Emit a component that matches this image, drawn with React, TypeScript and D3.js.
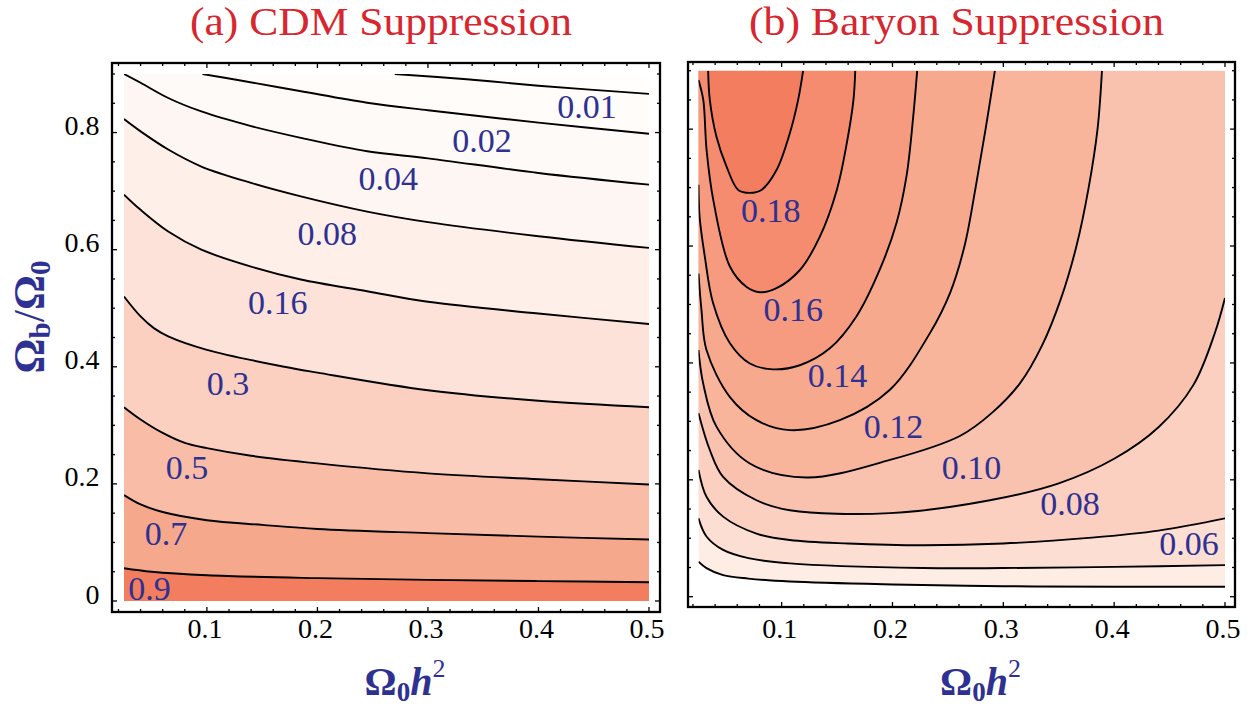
import React, { useLayoutEffect, useRef, useState } from 'react';
import * as d3 from 'd3';

type P = [number, number];

// ---------- shared axis data ----------
const xMajor = [0.1, 0.2, 0.3, 0.4, 0.5];
const xMajorLabels = ['0.1', '0.2', '0.3', '0.4', '0.5'];
const yMajor = [0, 0.2, 0.4, 0.6, 0.8];
const yMajorLabels = ['0', '0.2', '0.4', '0.6', '0.8'];
const xDomain: P = [0.025, 0.5];
const yDomain: P = [0, 0.9];

// ---------- (a) CDM suppression ----------
const cdmTitle = '(a) CDM Suppression';
const cdmLevels = ['0.01', '0.02', '0.04', '0.08', '0.16', '0.3', '0.5', '0.7', '0.9'];
const cdm001: P[] = [[0.27, 0.9], [0.335, 0.891], [0.4, 0.88], [0.5, 0.866]];
const cdm002: P[] = [[0.096, 0.9], [0.124, 0.891], [0.184, 0.871], [0.245, 0.851], [0.3, 0.838], [0.4, 0.817], [0.5, 0.798]];
const cdm004: P[] = [[0.025, 0.9], [0.04, 0.885], [0.065, 0.859], [0.095, 0.836], [0.14, 0.811], [0.185, 0.791], [0.245, 0.768], [0.3, 0.756], [0.4, 0.731], [0.5, 0.711]];
const cdm008: P[] = [[0.025, 0.823], [0.04, 0.802], [0.065, 0.771], [0.095, 0.742], [0.14, 0.714], [0.185, 0.691], [0.245, 0.665], [0.3, 0.647], [0.4, 0.623], [0.5, 0.603]];
const cdm016: P[] = [[0.025, 0.694], [0.04, 0.668], [0.065, 0.631], [0.095, 0.6], [0.14, 0.571], [0.185, 0.549], [0.245, 0.529], [0.3, 0.511], [0.4, 0.491], [0.5, 0.473]];
const cdm030: P[] = [[0.025, 0.52], [0.04, 0.486], [0.052, 0.466], [0.065, 0.452], [0.1, 0.429], [0.17, 0.4], [0.2, 0.39], [0.3, 0.36], [0.4, 0.342], [0.5, 0.331]];
const cdm050: P[] = [[0.025, 0.331], [0.04, 0.31], [0.06, 0.287], [0.08, 0.27], [0.1, 0.261], [0.14, 0.248], [0.2, 0.235], [0.3, 0.218], [0.4, 0.208], [0.5, 0.199]];
const cdm070: P[] = [[0.025, 0.181], [0.04, 0.165], [0.06, 0.152], [0.1, 0.138], [0.15, 0.13], [0.2, 0.123], [0.3, 0.116], [0.4, 0.11], [0.5, 0.105]];
const cdm090: P[] = [[0.025, 0.056], [0.05, 0.05], [0.1, 0.044], [0.2, 0.039], [0.3, 0.036], [0.4, 0.034], [0.5, 0.032]];
const cdmLines = [cdm001, cdm002, cdm004, cdm008, cdm016, cdm030, cdm050, cdm070, cdm090];
const cdmLabelX = [0.444, 0.349, 0.264, 0.209, 0.164, 0.119, 0.082, 0.063, 0.048];
const cdmLabelY = [0.844, 0.787, 0.722, 0.628, 0.509, 0.371, 0.228, 0.115, 0.022];
const cdmBands = ['#fffefd', '#fffcfa', '#fefaf7', '#fef6f2', '#feefe9', '#fde2d9', '#fbd0c1', '#f9bca7', '#f6a88c', '#f27e5f'];

// ---------- (b) Baryon suppression ----------
const barTitle = '(b) Baryon Suppression';
const barLevels = ['0.02', '0.04', '0.06', '0.08', '0.10', '0.12', '0.14', '0.16', '0.18'];
const bar002: P[] = [[0.025, 0.06], [0.0322, 0.049], [0.0472, 0.037], [0.07, 0.031], [0.1074, 0.026], [0.2, 0.021], [0.3, 0.018], [0.4, 0.017], [0.5, 0.017]];
const bar004: P[] = [[0.025, 0.134], [0.0322, 0.103], [0.0472, 0.08], [0.07, 0.066], [0.1074, 0.057], [0.2277, 0.049], [0.3, 0.049], [0.4, 0.051], [0.5, 0.054]];
const bar006: P[] = [[0.025, 0.217], [0.0322, 0.171], [0.0472, 0.137], [0.0773, 0.108], [0.1074, 0.097], [0.16, 0.091], [0.2277, 0.088], [0.3, 0.091], [0.38, 0.101], [0.44, 0.113], [0.5, 0.134]];
const bar008: P[] = [[0.025, 0.314], [0.0352, 0.251], [0.0472, 0.205], [0.0773, 0.165], [0.1074, 0.148], [0.1977, 0.143], [0.2879, 0.165], [0.35, 0.194], [0.4, 0.236], [0.44, 0.29], [0.4714, 0.362], [0.491, 0.452], [0.5, 0.511]];
const bar010: P[] = [[0.025, 0.422], [0.0292, 0.365], [0.0412, 0.291], [0.0713, 0.228], [0.1225, 0.204], [0.1977, 0.234], [0.2608, 0.275], [0.29, 0.315], [0.315, 0.365], [0.335, 0.43], [0.352, 0.51], [0.366, 0.6], [0.377, 0.7], [0.385, 0.8], [0.389, 0.9]];
const bar012: P[] = [[0.025, 0.553], [0.0277, 0.49], [0.0322, 0.422], [0.0532, 0.342], [0.0773, 0.302], [0.1074, 0.285], [0.1525, 0.302], [0.1977, 0.354], [0.2338, 0.451], [0.252, 0.52], [0.265, 0.6], [0.275, 0.7], [0.284, 0.8], [0.2924, 0.9]];
const bar014: P[] = [[0.025, 0.705], [0.026, 0.65], [0.0307, 0.582], [0.0382, 0.502], [0.0532, 0.434], [0.0713, 0.399], [0.0923, 0.389], [0.1164, 0.396], [0.1435, 0.425], [0.1676, 0.48], [0.1886, 0.56], [0.2037, 0.64], [0.2127, 0.72], [0.2187, 0.821], [0.2223, 0.9]];
const bar016: P[] = [[0.025, 0.884], [0.0293, 0.85], [0.0323, 0.764], [0.0383, 0.679], [0.0533, 0.565], [0.0684, 0.53], [0.0804, 0.521], [0.0954, 0.528], [0.1165, 0.559], [0.1345, 0.616], [0.1498, 0.696], [0.1588, 0.776], [0.1648, 0.85], [0.1664, 0.9]];
const bar018: P[] = [[0.0337, 0.9], [0.0352, 0.85], [0.0412, 0.787], [0.0503, 0.736], [0.0608, 0.696], [0.0713, 0.691], [0.0818, 0.696], [0.0954, 0.73], [0.1074, 0.793], [0.1149, 0.85], [0.1194, 0.9]];
const barLines = [bar002, bar004, bar006, bar008, bar010, bar012, bar014, bar016, bar018];
const barLabelX = [NaN, NaN, 0.4675, 0.3601, 0.2714, 0.201, 0.1503, 0.1104, 0.0901];
const barLabelY = [NaN, NaN, 0.091, 0.16, 0.221, 0.292, 0.378, 0.491, 0.66];
const barBands = ['#ffffff', '#fdede5', '#fcded3', '#fbd0c1', '#f9c2ae', '#f8b59c', '#f7a98e', '#f69b7f', '#f58c6f', '#f27e5f'];

const BLUE = '#2e3192';
const RED = '#d7262e';
const FONT = '"Liberation Serif", "Times New Roman", serif';

type Box = { x0: number; x1: number; y0: number; y1: number };

// y-axis title, measured and scaled so that it spans the reference length
function YTitle() {
  const ref = useRef<SVGTextElement>(null);
  const [k, setK] = useState(1);
  const [off, setOff] = useState(0);
  useLayoutEffect(() => {
    if (!ref.current) return;
    const b = ref.current.getBBox();
    if (b.width > 0) {
      setK(113 / b.width);
      setOff(-(b.x + b.width / 2));
    }
  }, []);
  return (
    <g transform={`translate(44,317) rotate(-90) scale(${k}) translate(${off},0)`}>
      <text ref={ref} x={0} y={0} fontFamily={FONT} fontSize={42} fill={BLUE} fontWeight="bold">
        <tspan>Ω</tspan>
        <tspan fontSize={28} dy={6}>b</tspan>
        <tspan dy={-6} fontWeight="normal">/</tspan>
        <tspan>Ω</tspan>
        <tspan fontSize={28} dy={6}>0</tspan>
      </text>
    </g>
  );
}

interface PanelProps {
  id: string;
  plot: Box;
  frame: Box;
  lines: P[][];
  levels: string[];
  bands: string[];
  labelX: number[];
  labelY: number[];
  dir: 'cw' | 'ccw';
  showY: boolean;
  title: string;
  titleWidth: number;
}

function Panel(props: PanelProps) {
  const { id, plot, frame, lines, levels, bands, labelX, labelY, dir, showY, title, titleWidth } = props;
  const xs = d3.scaleLinear().domain(xDomain).range([plot.x0, plot.x1]);
  const ys = d3.scaleLinear().domain(yDomain).range([plot.y1, plot.y0]);
  const gen = d3.line<P>().x(d => xs(d[0])).y(d => ys(d[1])).curve(d3.curveCatmullRom.alpha(0.5));

  const [xmin, xmax] = xDomain;
  const [ymin, ymax] = yDomain;
  const xr = xmax - xmin, yr = ymax - ymin;
  const corners: P[] = [[xmin, ymax], [xmax, ymax], [xmax, ymin], [xmin, ymin]];
  const perim = (p: P) => {
    const d = [Math.abs(p[1] - ymax) / yr, Math.abs(p[0] - xmax) / xr, Math.abs(p[1] - ymin) / yr, Math.abs(p[0] - xmin) / xr];
    const e = d.indexOf(Math.min(...d));
    if (e === 0) return (p[0] - xmin) / xr;
    if (e === 1) return 1 + (ymax - p[1]) / yr;
    if (e === 2) return 2 + (xmax - p[0]) / xr;
    return 3 + (p[1] - ymin) / yr;
  };
  const fillPath = (pts: P[]) => {
    const tS0 = perim(pts[0]);
    const tE = perim(pts[pts.length - 1]);
    const cs: P[] = [];
    if (dir === 'cw') {
      let tS = tS0;
      if (tS <= tE) tS += 4;
      for (let c = Math.floor(tE + 1e-9) + 1; c < tS - 1e-9; c++) cs.push(corners[c % 4]);
    } else {
      let tS = tS0;
      if (tS >= tE) tS -= 4;
      for (let c = Math.ceil(tE - 1e-9) - 1; c > tS + 1e-9; c--) cs.push(corners[((c % 4) + 4) % 4]);
    }
    return gen(pts) + cs.map(c => `L${xs(c[0])},${ys(c[1])}`).join('') + 'Z';
  };

  const xMinor = d3.range(0.02, 0.511, 0.02).filter(v => !xMajor.some(m => Math.abs(m - v) < 1e-6));
  const yMinor = d3.range(0.05, 0.901, 0.05).filter(v => !yMajor.some(m => Math.abs(m - v) < 1e-6));
  const maj = 5, min = 3;
  const cx = (frame.x0 + frame.x1) / 2;

  return (
    <g>
      <defs>
        <clipPath id={`clip-${id}`}>
          <rect x={plot.x0} y={plot.y0} width={plot.x1 - plot.x0} height={plot.y1 - plot.y0} />
        </clipPath>
      </defs>
      <text x={cx - 5} y={35} fontFamily={FONT} fontSize={40} fill={RED} textAnchor="middle"
        textLength={titleWidth} lengthAdjust="spacingAndGlyphs">{title}</text>
      <g clipPath={`url(#clip-${id})`}>
        <rect x={plot.x0} y={plot.y0} width={plot.x1 - plot.x0} height={plot.y1 - plot.y0} fill={bands[0]} />
        {lines.map((pts, i) => (
          <path key={`f${i}`} d={fillPath(pts)} fill={bands[i + 1]} stroke="none" />
        ))}
        {lines.map((pts, i) => (
          <path key={`l${i}`} d={gen(pts) || ''} fill="none" stroke="#000" strokeWidth={1.9} />
        ))}
      </g>
      {levels.map((lv, i) => isNaN(labelX[i]) ? null : (
        <text key={`t${i}`} x={xs(labelX[i])} y={ys(labelY[i]) + 11.5} fontFamily={FONT} fontSize={34}
          fill={BLUE} textAnchor="middle">{lv}</text>
      ))}
      <rect x={frame.x0} y={frame.y0} width={frame.x1 - frame.x0} height={frame.y1 - frame.y0}
        fill="none" stroke="#000" strokeWidth={2.3} />
      <g stroke="#000" strokeWidth={1.3}>
        {xMajor.map(v => (
          <g key={`xm${v}`}>
            <line x1={xs(v)} x2={xs(v)} y1={frame.y1} y2={frame.y1 - maj} />
            <line x1={xs(v)} x2={xs(v)} y1={frame.y0} y2={frame.y0 + maj} />
          </g>
        ))}
        {xMinor.map(v => (
          <g key={`xn${v}`}>
            <line x1={xs(v)} x2={xs(v)} y1={frame.y1} y2={frame.y1 - min} />
            <line x1={xs(v)} x2={xs(v)} y1={frame.y0} y2={frame.y0 + min} />
          </g>
        ))}
        {yMajor.map(v => (
          <g key={`ym${v}`}>
            <line x1={frame.x0} x2={frame.x0 + maj} y1={ys(v)} y2={ys(v)} />
            <line x1={frame.x1} x2={frame.x1 - maj} y1={ys(v)} y2={ys(v)} />
          </g>
        ))}
        {yMinor.map(v => (
          <g key={`yn${v}`}>
            <line x1={frame.x0} x2={frame.x0 + min} y1={ys(v)} y2={ys(v)} />
            <line x1={frame.x1} x2={frame.x1 - min} y1={ys(v)} y2={ys(v)} />
          </g>
        ))}
      </g>
      {xMajor.map((v, i) => (
        <text key={`xl${v}`} x={xs(v) - 2} y={637.5} fontFamily={FONT} fontSize={28} textAnchor="middle" fill="#000">
          {xMajorLabels[i]}
        </text>
      ))}
      {showY && yMajor.map((v, i) => (
        <text key={`yl${v}`} x={99.5} y={ys(v) + 2.5} fontFamily={FONT} fontSize={28} textAnchor="end" fill="#000">
          {yMajorLabels[i]}
        </text>
      ))}
      <text x={cx + 19} y={695} fontFamily={FONT} fontSize={40} fill={BLUE} fontWeight="bold" textAnchor="middle">
        <tspan>Ω</tspan>
        <tspan fontSize={27} dy={6}>0</tspan>
        <tspan fontStyle="italic" dy={-6}>h</tspan>
        <tspan fontSize={26} dy={-18} fontWeight="normal">2</tspan>
      </text>
      {showY && <YTitle />}
    </g>
  );
}

export default function App() {
  return (
    <svg width={1260} height={708} style={{ position: 'absolute', left: 0, top: 0, background: '#fff' }}>
      <rect x={0} y={0} width={1260} height={708} fill="#fff" />
      <Panel id="a" plot={{ x0: 124, x1: 649, y0: 74, y1: 601 }} frame={{ x0: 112, x1: 660, y0: 63, y1: 612 }}
        lines={cdmLines} levels={cdmLevels} bands={cdmBands} labelX={cdmLabelX} labelY={cdmLabelY}
        dir="cw" showY={true} title={cdmTitle} titleWidth={382} />
      <Panel id="b" plot={{ x0: 698.5, x1: 1225, y0: 70.7, y1: 596.7 }} frame={{ x0: 688, x1: 1235, y0: 62, y1: 607 }}
        lines={barLines} levels={barLevels} bands={barBands} labelX={barLabelX} labelY={barLabelY}
        dir="ccw" showY={false} title={barTitle} titleWidth={415} />
    </svg>
  );
}
